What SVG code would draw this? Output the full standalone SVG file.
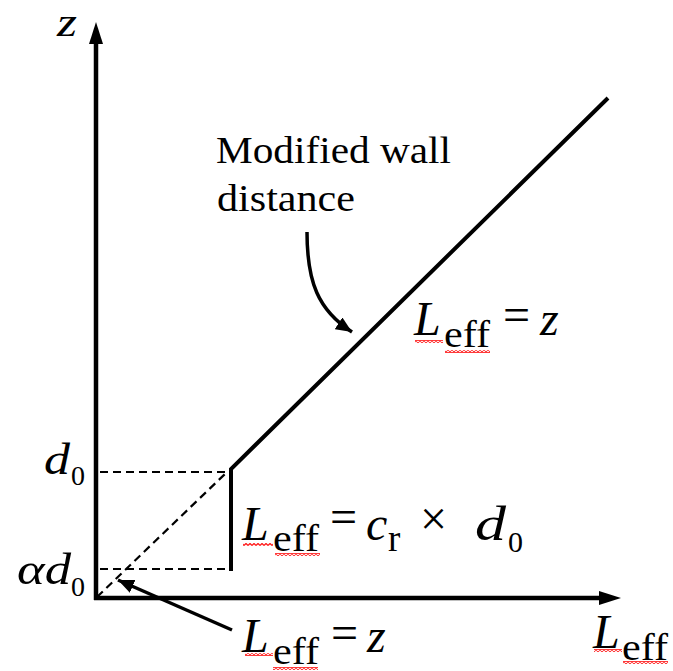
<svg xmlns="http://www.w3.org/2000/svg" width="673" height="671" viewBox="0 0 673 671">
<style>
.ax{stroke:#000;stroke-width:4.5;fill:none}
.ln{stroke:#000;stroke-width:4;fill:none}
.dash{stroke:#000;stroke-width:2.2;fill:none;stroke-dasharray:8 5}
.ptr{stroke:#000;stroke-width:3.5;fill:none}
.t{font-family:"Liberation Serif","Times New Roman",serif;fill:#000}
.i{font-style:italic}
.big{font-size:48px}
.sub{font-size:37px}
.sq{fill:url(#squig)}
</style>
<defs>
<pattern id="squig" width="4" height="3" patternUnits="userSpaceOnUse">
<path d="M0,2.5 L2,0.5 L4,2.5" stroke="#ff1a1a" stroke-width="1.3" fill="none"/>
</pattern>
<marker id="ah" markerUnits="userSpaceOnUse" markerWidth="18" markerHeight="14" refX="16" refY="7" orient="auto">
<path d="M0,0 L16,7 L0,14 Z" fill="#000"/>
</marker>
</defs>
<g id="axes">
<line class="ax" x1="96" y1="600" x2="96" y2="40"/>
<path d="M96,22 L103,44 L89,44 Z" fill="#000"/>
<line class="ax" x1="94" y1="598" x2="602" y2="598"/>
<path d="M621,598 L599,591 L599,605 Z" fill="#000"/>
<text class="t i" x="57" y="36" font-size="40" textLength="20" lengthAdjust="spacingAndGlyphs">z</text>
<text class="t i big" x="593" y="648">L</text>
<text class="t sub" x="622" y="660" textLength="46" lengthAdjust="spacingAndGlyphs">eff</text>
<rect class="sq" x="594" y="649" width="28" height="3"/>
<rect class="sq" x="623" y="661" width="45" height="3"/>
</g>
<g id="connectors">
<polyline class="ln" points="231,571 231,469 608,98" stroke-linejoin="miter"/>
<line class="dash" x1="100" y1="472" x2="228" y2="472"/>
<line class="dash" x1="100" y1="569" x2="228" y2="569"/>
<line class="dash" x1="97" y1="597" x2="226" y2="473"/>
<path class="ptr" d="M307,232 C307,282 318,310 352,332" marker-end="url(#ah)"/>
<line class="ptr" x1="232" y1="630" x2="118" y2="580" marker-end="url(#ah)"/>
</g>
<g id="label-modified">
<text class="t" x="216" y="163" font-size="38" textLength="235" lengthAdjust="spacingAndGlyphs">Modified wall</text>
<text class="t" x="217" y="211" font-size="38" textLength="138" lengthAdjust="spacingAndGlyphs">distance</text>
</g>
<g id="label-d0">
<text class="t i" x="44" y="474" font-size="44" textLength="26" lengthAdjust="spacingAndGlyphs">d</text>
<text class="t" x="71" y="485" font-size="28">0</text>
</g>
<g id="label-ad0">
<text class="t i" x="17" y="584" font-size="44" textLength="54" lengthAdjust="spacingAndGlyphs">αd</text>
<text class="t" x="71" y="596" font-size="28">0</text>
</g>
<g id="eq-upper">
<text class="t i big" x="414" y="335">L</text>
<text class="t sub" x="444" y="347" textLength="46" lengthAdjust="spacingAndGlyphs">eff</text>
<text class="t big" x="503" y="331">=</text>
<text class="t i big" x="540" y="335">z</text>
<rect class="sq" x="415" y="340" width="28" height="3"/>
<rect class="sq" x="445" y="350" width="45" height="3"/>
</g>
<g id="eq-middle">
<text class="t i big" x="242" y="540">L</text>
<text class="t sub" x="273" y="551" textLength="46" lengthAdjust="spacingAndGlyphs">eff</text>
<text class="t big" x="330" y="533">=</text>
<text class="t i big" x="366" y="540">c</text>
<text class="t sub" x="388" y="551" font-size="32">r</text>
<text class="t big" x="420" y="535" font-size="52">×</text>
<text class="t i big" x="475" y="540" textLength="31" lengthAdjust="spacingAndGlyphs">d</text>
<text class="t" x="508" y="552" font-size="30">0</text>
<rect class="sq" x="243" y="543" width="30" height="3"/>
<rect class="sq" x="275" y="553" width="45" height="3"/>
</g>
<g id="eq-lower">
<text class="t i big" x="242" y="652">L</text>
<text class="t sub" x="273" y="664" textLength="46" lengthAdjust="spacingAndGlyphs">eff</text>
<text class="t big" x="331" y="649">=</text>
<text class="t i big" x="367" y="652">z</text>
<rect class="sq" x="245" y="653" width="28" height="3"/>
<rect class="sq" x="273" y="667" width="45" height="3"/>
</g>
</svg>
